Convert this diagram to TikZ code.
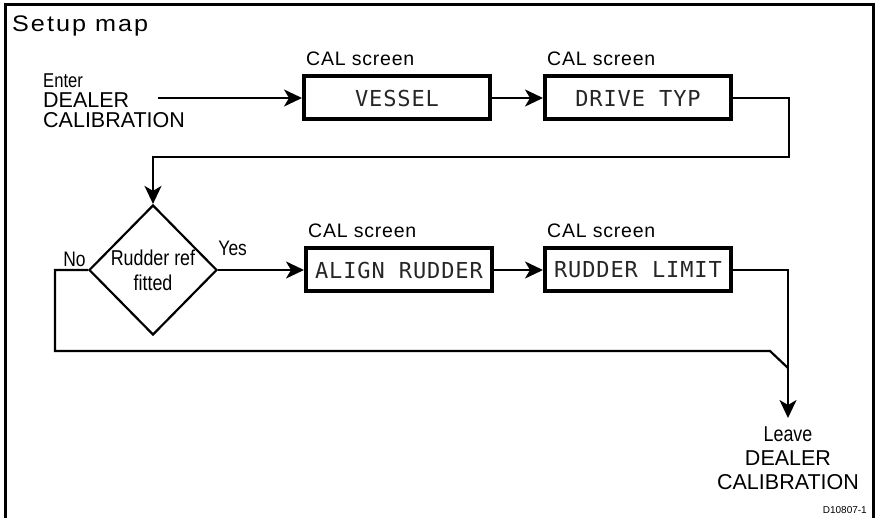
\documentclass[tikz,border=0pt]{standalone}
\usepackage{fontspec}
\usepackage{graphicx}
\setmainfont{Liberation Sans}
\newfontfamily\titlefont[LetterSpace=8]{Liberation Sans}
\newfontfamily\widefont[LetterSpace=4]{Liberation Sans}
\newfontfamily\lcdfont[LetterSpace=4]{DejaVu Sans Mono}
\usetikzlibrary{arrows.meta,shapes.geometric,positioning}
\newcommand{\narrow}[1]{\scalebox{0.83}[1]{#1}}

\begin{document}
\begin{tikzpicture}[x=1pt,y=-1pt,>={Stealth[length=18pt,width=17pt,inset=5pt]},
		line/.style={line width=2.2pt},
		screen/.style={draw,line width=4pt,minimum width=186pt,minimum height=43pt,inner sep=0pt,text=black!85,font=\lcdfont\fontsize{22}{22}\selectfont},
		caption/.style={inner sep=0pt,font=\widefont\fontsize{19.5}{19.5}\selectfont},
		decide/.style={diamond,draw,line width=2.2pt,minimum width=128pt,minimum height=130pt,inner sep=0pt,align=center,font=\fontsize{21.5}{25}\selectfont},
		lbl/.style={inner sep=2pt,font=\fontsize{21}{21}\selectfont}]
		\useasboundingbox (0,0) rectangle (880,518);
		
		% Frame, open at the bottom
		\draw[line width=3pt] (5,518) -- (5,5) -- (873,5) -- (873,518);
		\node[anchor=base west,inner sep=0pt,font=\titlefont\fontsize{22.5}{22.5}\selectfont] (title) at (12,32) {\scalebox{1.12}[1]{Setup map}};
		
		% Entry and exit
		\node[anchor=north west,align=left,inner sep=0pt,font=\fontsize{21.5}{20}\selectfont] (enter) at (43,74) {{\fontsize{20}{20}\selectfont\narrow{Enter}}\\DEALER\\CALIBRATION};
		\coordinate (enterout) at (158,98);
		\node[anchor=north,align=center,inner sep=0pt,outer sep=9pt,font=\fontsize{21.5}{24}\selectfont] (leave) at (788,418) {{\fontsize{21.5}{21.5}\selectfont\narrow{Leave}}\\DEALER\\CALIBRATION};
		\node[anchor=base east,inner sep=0pt,font=\fontsize{10}{10}\selectfont] (code) at (867,513) {D10807-1};
		
		% CAL screens
		\node[screen] (vessel) at (397,98) {VESSEL};
		\node[screen] (drive) at (638,98) {DRIVE TYP};
		\node[screen] (align) at (399,270) {ALIGN RUDDER};
		\node[screen] (limit) at (638,270) {RUDDER LIMIT};
		\node[caption,above right=9pt and 4pt of vessel.north west] (calvessel) {CAL screen};
		\node[caption,above right=9pt and 4pt of drive.north west] (caldrive) {CAL screen};
		\node[caption,above right=9pt and 4pt of align.north west] (calalign) {CAL screen};
		\node[caption,above right=9pt and 4pt of limit.north west] (callimit) {CAL screen};
		
		% Decision
		\node[decide] (decision) at (153,270) {\narrow{Rudder ref}\\\narrow{fitted}};
		\coordinate (turn) at (789,157);
		\coordinate (nocorner) at (55,270);
		\coordinate (joint) at (770,351);
		
		% Connectors
		\draw[line,->] (enterout) -- (vessel);
		\draw[line,->] (vessel) -- (drive);
		\draw[line,->] (drive) -| (turn) -| (decision.north);
		\draw[line,->] (decision.east) -- node[lbl,above,pos=0.17,yshift=11pt] (yes) {\narrow{Yes}} (align.west);
		\draw[line,->] (align) -- (limit);
		\draw[line,->] (limit) -| (leave.north);
		\draw[line] (decision.west) -- node[lbl,above,xshift=3pt] (no) {\narrow{No}} (nocorner) |- (joint) -- ++(18,17);
	\end{tikzpicture}
\end{document}
